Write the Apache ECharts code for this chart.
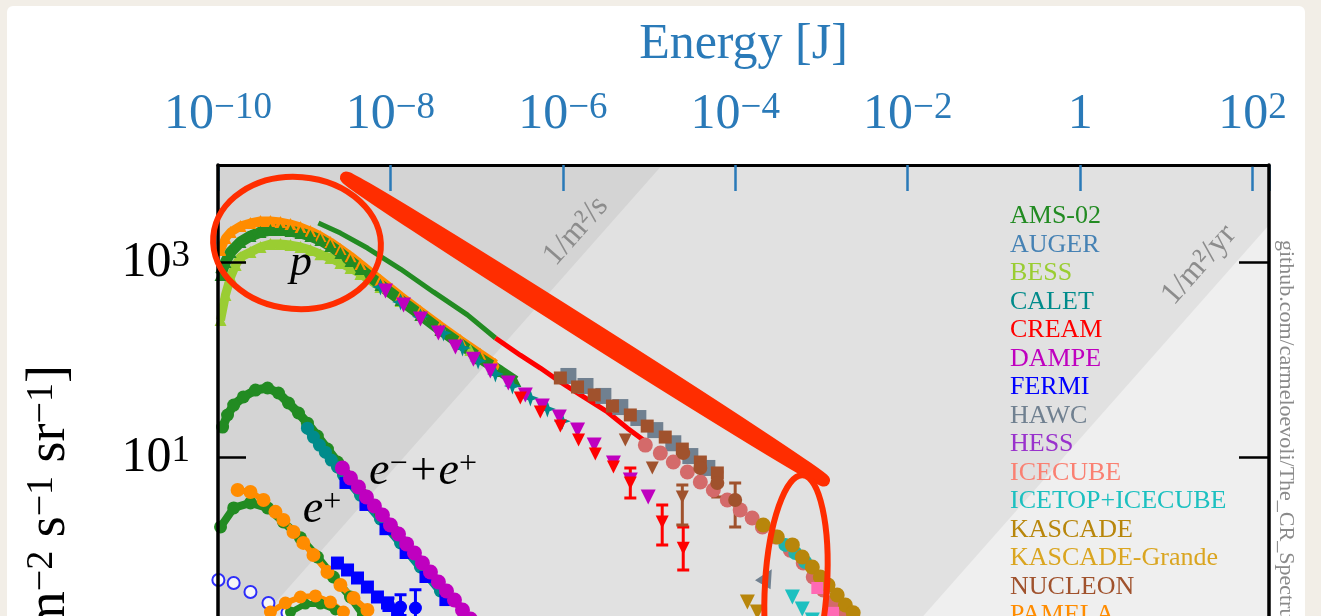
<!DOCTYPE html>
<html><head><meta charset="utf-8">
<script src="https://cdn.jsdelivr.net/npm/echarts@6/dist/echarts.min.js"></script>
<style>
html,body{margin:0;padding:0;width:1321px;height:616px;overflow:hidden;background:#f2eee7}
#panel{position:absolute;left:7px;top:6px;width:1298px;height:700px;background:#fff;border-radius:6px}
#chart{position:absolute;left:0;top:0;width:1321px;height:1100px}
</style></head><body><div id="panel"></div><div id="chart"></div>
<script>
// ---------- data: [energy in J, E^2 I(E) in GeV m^-2 s^-1 sr^-1] ----------
const LEGEND_NAMES = ['AMS-02','AUGER','BESS','CALET','CREAM','DAMPE','FERMI','HAWC','HESS','ICECUBE','ICETOP+ICECUBE','KASCADE','KASCADE-Grande','NUCLEON','PAMELA'];
const LEGEND_COLORS = ['#228b22','#4682b4','#9acd32','#008b8b','#ff0000','#bf00bf','#0000ff','#708090','#9932cc','#fa8072','#1cc0c0','#b8860b','#daa520','#a0522d','#ff8c00'];

// flux bands: integral flux 1/m^2/s and 1/m^2/yr
const BAND_SEC = [[1e-10, 0.07],[1.42e-5, 1e4],[155, 1e4]];
const BAND_YR  = [[6.4e-7, 1e-5],[155, 2430]];

// protons
const PAMELA_P = [[1.07e-10,1340],[1.22e-10,1780],[1.40e-10,2051],[1.82e-10,2364],[2.38e-10,2540],[3.11e-10,2667],[4.06e-10,2667],[5.31e-10,2600],[6.93e-10,2480],[9.05e-10,2309],[1.18e-9,2100],[1.54e-9,1866],[2.01e-9,1622],[2.63e-9,1374],[3.44e-9,1162],[4.49e-9,965],[7.66e-9,662],[1.31e-8,453],[2.23e-8,318],[3.80e-8,224],[6.49e-8,160],[1.10e-7,116],[1.65e-7,91.0]];
const BESS_P = [[1.07e-10,257],[1.22e-10,464],[1.40e-10,711],[1.60e-10,942],[1.82e-10,1135],[2.38e-10,1278],[3.11e-10,1441],[4.06e-10,1547],[5.31e-10,1547],[6.93e-10,1510],[9.05e-10,1441],[1.18e-9,1340],[1.54e-9,1218],[2.01e-9,1111],[2.63e-9,987],[3.44e-9,878],[4.49e-9,763],[7.66e-9,561],[1.31e-8,402],[2.23e-8,290],[3.80e-8,208],[6.49e-8,149],[8.47e-8,127]];
const AMS_P = [[1.07e-10,745],[1.22e-10,1011],[1.40e-10,1278],[1.82e-10,1622],[2.38e-10,1866],[3.11e-10,2051],[4.06e-10,2150],[5.31e-10,2150],[6.93e-10,2100],[9.05e-10,2004],[1.18e-9,1866],[1.54e-9,1700],[2.01e-9,1475],[2.63e-9,1248],[3.44e-9,1035],[4.49e-9,857],[7.66e-9,588],[1.31e-8,412],[2.23e-8,290],[3.80e-8,203],[6.49e-8,146],[1.10e-7,104],[1.88e-7,77.1],[2.81e-7,60.9]];
const CALET_P = [[7.66e-9,561],[1.31e-8,393],[2.23e-8,277],[4.12e-8,189],[6.85e-8,133],[1.04e-7,97.7],[1.65e-7,71.8],[2.60e-7,54.1],[4.20e-7,40.8],[6.61e-7,31.4],[9.86e-7,23.6]];
const DAMPE_P = [[8.76e-9,511],[1.42e-8,366],[2.23e-8,264],[3.60e-8,189],[5.68e-8,136],[9.17e-8,102],[1.44e-7,77.1],[2.33e-7,58.2],[3.67e-7,43.8],[5.78e-7,33.7],[9.10e-7,26.0],[1.48e-6,19.1],[2.31e-6,13.4],[3.86e-6,8.78],[6.06e-6,5.88],[9.76e-6,3.93]];
const AMS_LINE = [[1.46e-9,2540],[2.63e-9,2004],[5.41e-9,1407],[1.31e-8,857],[3.15e-8,499],[7.82e-8,290],[1.65e-7,168]];
const CREAM_LINE = [[1.65e-7,168],[3.21e-7,112],[5.48e-7,82.7],[9.35e-7,59.5],[1.60e-6,43.8],[3.29e-6,29.3],[5.60e-6,20.0],[8.58e-6,15.1]];
const CREAM_P = [[3.21e-7,40.8],[5.48e-7,29.3],[9.35e-7,21.0],[1.52e-6,15.1],[2.38e-6,10.85],[3.86e-6,7.99],[6.06e-6,5.48],[1.42e-5,2.18],[2.49e-5,1.17]];
const CREAM_P_ERR = [[6.06e-6,3.84,7.81],[1.42e-5,1.27,3.26],[2.49e-5,0.702,1.94]];
const NUCLEON_P = [[5.30e-6,15.1],[1.09e-5,7.81],[2.43e-5,3.93]];
const NUCLEON_P_ERR = [[2.43e-5,2.03,5.23]];
// all-particle
const HAWC_ALL = [[1.16e-6,68.6],[1.83e-6,54.1],[2.95e-6,42.8],[4.64e-6,32.9],[7.51e-6,25.4],[1.18e-5,19.1],[1.91e-5,14.0],[3.01e-5,10.35],[4.74e-5,7.81]];
const HAWC_ARROW = [[2.35e-4,0.595]];
const NUCLEON_ALL = [[9.35e-7,65.4],[1.48e-6,52.9],[2.31e-6,43.8],[3.76e-6,33.7],[6.06e-6,27.3],[9.51e-6,21.0],[1.54e-5,16.2],[2.43e-5,12.2],[3.93e-5,8.99],[6.19e-5,6.94]];
const TUNKA_ALL = [[2.49e-5,11.1],[3.93e-5,7.81],[6.19e-5,5.48],[9.97e-5,3.66]];
const TUNKA_ERR = [[3.93e-5,5.88,9.87],[6.19e-5,3.93,7.11],[9.97e-5,1.94,5.48]];
const ICECUBE_ALL = [[9.05e-6,13.4],[1.35e-5,11.1],[1.91e-5,8.99],[2.78e-5,7.11],[3.93e-5,5.61],[5.56e-5,4.64],[8.08e-5,3.66],[1.14e-4,2.90],[1.57e-4,2.40],[2.06e-4,1.94],[2.91e-4,1.53],[4.35e-4,1.12],[6.14e-4,0.827],[8.02e-4,0.595],[1.05e-3,0.438],[1.36e-3,0.329],[1.79e-3,0.260],[2.33e-3,0.205]];
const ICETOP_ALL = [[3.81e-4,1.27],[4.97e-4,1.05],[6.48e-4,0.848]];
const ICETOP_LIGHT = [[4.59e-4,0.371],[5.98e-4,0.280],[7.82e-4,0.215]];
const KASCADE_ALL = [[2.11e-4,2.03],[3.07e-4,1.53],[4.59e-4,1.27],[5.98e-4,0.954],[7.82e-4,0.753],[9.68e-4,0.595],[1.19e-3,0.492],[1.52e-3,0.389],[1.89e-3,0.307],[2.33e-3,0.255]];
const KASCADE_LIGHT = [[1.38e-4,0.329],[1.80e-4,0.260]];
const TALE_ALL = [[8.94e-4,0.459],[1.36e-3,0.255]];
const KGRANDE_ALL = [[3e-3,0.15],[1e-2,0.06],[3e-2,0.025],[0.1,0.01]];
const AUGER_ALL = [[0.5,3e-3],[1,2.5e-3],[3,1.5e-3],[10,5e-4]];
// leptons
const HESS_E = [[1.6e-7,0.1],[3e-7,0.06],[6e-7,0.02]];
const AMS_EE = [[1.13e-10,20.5],[1.29e-10,27.3],[1.52e-10,34.5],[1.97e-10,41.8],[2.72e-10,49.2],[3.76e-10,51.6],[5.03e-10,45.9],[6.57e-10,36.2],[8.58e-10,28.6],[1.09e-9,22.5],[1.42e-9,16.6],[1.86e-9,12.2],[2.43e-9,8.99],[3.44e-9,6.16],[5.13e-9,4.02],[7.66e-9,2.63],[1.14e-8,1.72]];
const CALET_EE = [[1.09e-9,20.0],[1.28e-9,16.2],[1.50e-9,13.4],[1.76e-9,11.35],[2.06e-9,9.42],[2.43e-9,7.99],[2.85e-9,6.62],[4.49e-9,4.12],[7.66e-9,2.34],[1.31e-8,1.33],[2.23e-8,0.753],[3.80e-8,0.428]];
const FERMI_EE = [[3.01e-9,5.48],[5.13e-9,3.26],[8.76e-9,1.84],[1.50e-8,1.048],[2.55e-8,0.595],[4.34e-8,0.345]];
const DAMPE_EE = [[2.77e-9,7.81],[3.44e-9,6.16],[4.26e-9,4.99],[5.27e-9,3.93],[6.52e-9,3.18],[8.08e-9,2.57],[1.0e-8,2.03],[1.24e-8,1.64],[1.54e-8,1.30],[1.90e-8,1.048],[2.35e-8,0.827],[2.91e-8,0.670],[3.60e-8,0.529],[4.47e-8,0.428],[5.53e-8,0.345],[6.85e-8,0.273],[8.47e-8,0.220]];
const AMS_POS = [[1.07e-10,1.94],[1.52e-10,3.04],[2.38e-10,3.42],[3.76e-10,3.04],[5.74e-10,2.18],[9.05e-10,1.50],[1.42e-9,0.954],[2.18e-9,0.595],[3.44e-9,0.371],[4.86e-9,0.243]];
const PAMELA_E = [[1.69e-10,4.64],[2.38e-10,4.43],[3.37e-10,3.66],[4.64e-10,2.77],[5.74e-10,2.29],[7.51e-10,1.72],[9.76e-10,1.33],[1.28e-9,1.0],[1.86e-9,0.670],[2.63e-9,0.492],[3.73e-9,0.362],[5.41e-9,0.273]];
const FERMI_POS = [[2.43e-9,0.827],[3.18e-9,0.702],[4.15e-9,0.581],[5.41e-9,0.469],[7.07e-9,0.371],[9.24e-9,0.322],[1.21e-8,0.267]];
const FERMI_PTS = [[9.48e-9,0.307],[1.31e-8,0.293],[1.95e-8,0.286]];
const FERMI_PTS_ERR = [[9.48e-9,0.27,0.36],[1.31e-8,0.24,0.39],[1.95e-8,0.21,0.44]];
const FERMI_OPEN = [[1.01e-10,0.554],[1.52e-10,0.516],[2.38e-10,0.418],[3.85e-10,0.322],[6.39e-10,0.255]];
const PAMELA_PBAR = [[4.06e-10,0.260],[6.06e-10,0.322],[9.05e-10,0.371],[1.35e-9,0.380],[2.01e-9,0.329],[2.85e-9,0.260]];
const AMS_PBAR = [[6.93e-10,0.260],[1.03e-9,0.314],[1.54e-9,0.314],[2.30e-9,0.273]];

// ---------- chart ----------
const FONT = 'Liberation Serif';
const BLUE = '#2a7ab8';
const C = {};
LEGEND_NAMES.forEach((n,i)=>{C[n]=LEGEND_COLORS[i];});

function expLabel(v, oddOnly){
  const e = Math.log10(v), r = Math.round(e);
  if (Math.abs(e - r) > 1e-6) return '';
  if (oddOnly && Math.abs(r % 2) !== 1) return '';
  if (r === 0) return '{b|1}';
  return '{b|10}{s|' + (r < 0 ? '\u2212' : '') + Math.abs(r) + '}';
}
const labelRich = {
  b:{fontFamily:FONT, fontSize:50, lineHeight:50, verticalAlign:'bottom'},
  s:{fontFamily:FONT, fontSize:37, lineHeight:22, verticalAlign:'top'}
};

const STAR = 'path://M5,0 L6.3,3.7 L10,5 L6.3,6.3 L5,10 L3.7,6.3 L0,5 L3.7,3.7 Z';
function sc(name, data, symbol, size, color, extra){
  return Object.assign({type:'scatter', name, data, symbol, symbolSize:size, itemStyle:{color, opacity:1}, z:3, silent:true, clip:true}, extra||{});
}
function ln(name, data, symbol, size, color, width, extra){
  return Object.assign({type:'line', name, data, symbol, symbolSize:size, showSymbol: symbol !== 'none', itemStyle:{color}, lineStyle:{color, width}, z:3, silent:true, clip:true}, extra||{});
}
function err(name, data, color){
  return {type:'custom', name, data, z:3, silent:true, clip:true, encode:{x:0, y:[1,2]},
    renderItem(params, api){
      const x = api.value(0), lo = api.value(1), hi = api.value(2);
      const a = api.coord([x, hi]), b = api.coord([x, lo]);
      const st = {stroke: color, lineWidth: 3};
      return {type:'group', children:[
        {type:'line', shape:{x1:a[0], y1:a[1], x2:b[0], y2:b[1]}, style:st},
        {type:'line', shape:{x1:a[0]-6, y1:a[1], x2:a[0]+6, y2:a[1]}, style:st},
        {type:'line', shape:{x1:b[0]-6, y1:b[1], x2:b[0]+6, y2:b[1]}, style:st}]};
    }};
}

const series = [
  {type:'line', name:'band-s', data:BAND_SEC, symbol:'none', lineStyle:{width:0}, areaStyle:{color:'#e1e1e1', opacity:1, origin:'start'}, z:1, silent:true},
  {type:'line', name:'band-yr', data:BAND_YR, symbol:'none', lineStyle:{width:0}, areaStyle:{color:'#efefef', opacity:1, origin:'start'}, z:1, silent:true},
  sc('AUGER', AUGER_ALL, 'circle', 13, C['AUGER']),
  sc('HESS', HESS_E, 'circle', 13, C['HESS']),
  sc('KASCADE-Grande', KGRANDE_ALL, 'circle', 13, C['KASCADE-Grande']),
  ln('PAMELA', PAMELA_P, 'triangle', 12, C['PAMELA'], 9),
  ln('BESS', BESS_P, 'triangle', 12, C['BESS'], 9),
  ln('AMS-02', AMS_P, 'triangle', 12, C['AMS-02'], 11),
  sc('CALET', CALET_P, STAR, 17, C['CALET']),
  sc('DAMPE', DAMPE_P, 'triangle', 15, C['DAMPE'], {symbolRotate:180}),
  ln('AMS-02', AMS_LINE, 'none', 0, C['AMS-02'], 5),
  ln('CREAM', CREAM_LINE, 'none', 0, C['CREAM'], 5),
  err('CREAM', CREAM_P_ERR, C['CREAM']),
  sc('CREAM', CREAM_P, 'triangle', 13, C['CREAM'], {symbolRotate:180}),
  err('NUCLEON', NUCLEON_P_ERR, C['NUCLEON']),
  sc('NUCLEON', NUCLEON_P, 'triangle', 13, C['NUCLEON'], {symbolRotate:180}),
  sc('HAWC', HAWC_ALL, 'rect', 16, C['HAWC']),
  sc('NUCLEON', NUCLEON_ALL, 'rect', 13, C['NUCLEON']),
  sc('ICECUBE', ICECUBE_ALL, 'circle', 15, '#d46a6a'),
  err('TUNKA', TUNKA_ERR, C['NUCLEON']),
  sc('TUNKA', TUNKA_ALL, 'circle', 14, C['NUCLEON']),
  sc('ICETOP+ICECUBE', ICETOP_ALL, 'circle', 14, '#20b2aa'),
  sc('ICETOP+ICECUBE', ICETOP_LIGHT, 'triangle', 15, C['ICETOP+ICECUBE'], {symbolRotate:180}),
  sc('KASCADE', KASCADE_ALL, 'circle', 15, C['KASCADE']),
  sc('KASCADE', KASCADE_LIGHT, 'triangle', 15, C['KASCADE'], {symbolRotate:180}),
  sc('TALE', TALE_ALL, 'rect', 12, '#ff69b4'),
  sc('HAWC', HAWC_ARROW, 'triangle', 18, C['HAWC'], {symbolRotate:-30}),
  ln('AMS-02', AMS_EE, 'circle', 13, C['AMS-02'], 9),
  ln('CALET', CALET_EE, 'circle', 13, C['CALET'], 9),
  sc('FERMI', FERMI_EE, 'rect', 12, C['FERMI']),
  ln('DAMPE', DAMPE_EE, 'circle', 15, C['DAMPE'], 8),
  ln('AMS-02', AMS_POS, 'circle', 13, C['AMS-02'], 8),
  ln('PAMELA', PAMELA_E, 'circle', 14, C['PAMELA'], 6),
  sc('FERMI', FERMI_POS, 'rect', 13, C['FERMI']),
  err('FERMI', FERMI_PTS_ERR, C['FERMI']),
  sc('FERMI', FERMI_PTS, 'circle', 13, C['FERMI']),
  sc('FERMI', FERMI_OPEN, 'emptyCircle', 12, C['FERMI'], {itemStyle:{color:C['FERMI'], borderWidth:2.5}}),
  ln('AMS-02', AMS_PBAR, 'circle', 11, C['AMS-02'], 6),
  ln('PAMELA', PAMELA_PBAR, 'circle', 13, C['PAMELA'], 6)
];

const RED = '#ff2d00';
const option = {
  animation:false,
  backgroundColor:'transparent',
  grid:{left:218, right:52, top:165, bottom:57.5, show:true, backgroundColor:'#d4d4d4', borderWidth:0},
  legend:{
    orient:'vertical', left:1005, top:202, padding:0, itemWidth:0, itemHeight:0, itemGap:0, icon:'none',
    selectedMode:false, z:20,
    textStyle:{fontFamily:FONT, fontSize:26, lineHeight:28.5},
    data: LEGEND_NAMES.map((n,i)=>({name:n, textStyle:{color:LEGEND_COLORS[i], fontFamily:FONT, fontSize:26}}))
  },
  xAxis:{
    type:'log', logBase:10, position:'top', min:1e-10, max:155, interval:2, z:10,
    name:'Energy [J]', nameLocation:'middle', nameGap:95,
    nameTextStyle:{color:BLUE, fontFamily:FONT, fontSize:50},
    axisLine:{show:true, lineStyle:{color:'#000', width:3}},
    axisTick:{show:true, inside:true, length:26, lineStyle:{color:BLUE, width:2.5}},
    axisLabel:{show:true, margin:25, color:BLUE, rich:labelRich, formatter:(v)=>expLabel(v,false)},
    splitLine:{show:false}, minorTick:{show:false}
  },
  yAxis:[
    {type:'log', logBase:10, position:'left', min:1e-5, max:1e4, interval:2, z:12,
     axisLine:{show:true, lineStyle:{color:'#000', width:3.5}},
     axisTick:{show:true, inside:true, length:28, lineStyle:{color:'#000', width:2.5}},
     axisLabel:{show:true, margin:28, color:'#000', rich:labelRich, formatter:(v)=>expLabel(v,true)},
     splitLine:{show:false}},
    {type:'log', logBase:10, position:'right', min:1e-5, max:1e4, interval:2, z:12,
     axisLine:{show:true, lineStyle:{color:'#000', width:3.5}},
     axisTick:{show:true, inside:true, length:30, lineStyle:{color:'#000', width:2.5}},
     axisLabel:{show:false}, splitLine:{show:false}}
  ],
  series: series,
  graphic:[
    {type:'text', x:576, y:231, rotation:0.846, z:5, silent:true,
     style:{text:'1/m\u00b2/s', font:'32px "Liberation Serif"', fill:'#8c8c8c', align:'center', verticalAlign:'middle'}},
    {type:'text', x:1199, y:265, rotation:0.846, z:5, silent:true,
     style:{text:'1/m\u00b2/yr', font:'32px "Liberation Serif"', fill:'#8c8c8c', align:'center', verticalAlign:'middle'}},
    {type:'text', x:1286, y:240, rotation:-Math.PI/2, z:5, silent:true,
     style:{text:'github.com/carmeloevoli/The_CR_Spectrum', font:'22px "Liberation Serif"', fill:'#8a8a8a', align:'left', verticalAlign:'middle'}},
    {type:'text', x:50, y:365, rotation:Math.PI/2, z:5, silent:true,
     style:{text:'{n|E}{s|2}{n| I(E) [GeV m}{s|\u22122}{n| s}{s|\u22121}{n| sr}{s|\u22121}{n|]}', align:'right', verticalAlign:'middle',
      rich:{n:{fontFamily:FONT, fontSize:54, lineHeight:54, fill:'#000'}, s:{fontFamily:FONT, fontSize:38, lineHeight:26, verticalAlign:'top', fill:'#000'}}}},
    {type:'text', x:301, y:263, z:30, silent:true,
     style:{text:'p', font:'italic 44px "Liberation Serif"', fill:'#000', align:'center', verticalAlign:'middle'}},
    {type:'text', x:423, y:472, z:30, silent:true,
     style:{text:'{e|e}{s|\u2212}{e|+e}{s|+}', align:'center', verticalAlign:'middle',
      rich:{e:{fontFamily:FONT, fontStyle:'italic', fontSize:46, lineHeight:46, fill:'#000'}, s:{fontFamily:FONT, fontSize:32, lineHeight:20, verticalAlign:'top', fill:'#000'}}}},
    {type:'text', x:322, y:510, z:30, silent:true,
     style:{text:'{e|e}{s|+}', align:'center', verticalAlign:'middle',
      rich:{e:{fontFamily:FONT, fontStyle:'italic', fontSize:46, lineHeight:46, fill:'#000'}, s:{fontFamily:FONT, fontSize:32, lineHeight:20, verticalAlign:'top', fill:'#000'}}}},
    {type:'ellipse', x:297, y:243, rotation:-0.08, z:40, silent:true,
     shape:{cx:0, cy:0, rx:84, ry:66}, style:{fill:'none', stroke:RED, lineWidth:6}},
    {type:'ellipse', x:585, y:329, rotation:-0.565, z:40, silent:true,
     shape:{cx:0, cy:0, rx:283, ry:5}, style:{fill:'none', stroke:RED, lineWidth:12}},
    {type:'ellipse', x:796, y:585, rotation:-0.06, z:40, silent:true,
     shape:{cx:0, cy:0, rx:31, ry:110}, style:{fill:'none', stroke:RED, lineWidth:6}}
  ]
};
const chart = echarts.init(document.getElementById('chart'), null, {renderer:'canvas', width:1321, height:1100});
chart.setOption(option);
</script></body></html>
